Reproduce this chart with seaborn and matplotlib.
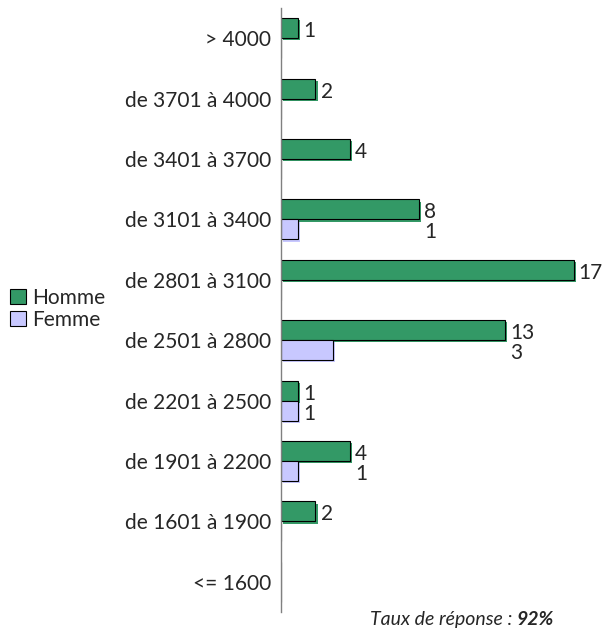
import pandas as pd
import matplotlib.pyplot as plt
import matplotlib.patheffects as pe
from matplotlib.patches import Patch
import seaborn as sns

# --- data ---
tranches = ['> 4000', 'de 3701 à 4000', 'de 3401 à 3700', 'de 3101 à 3400',
            'de 2801 à 3100', 'de 2501 à 2800', 'de 2201 à 2500',
            'de 1901 à 2200', 'de 1601 à 1900', '<= 1600']
homme = [1, 2, 4, 8, 17, 13, 1, 4, 2, 0]
femme = [0, 0, 0, 1, 0, 3, 1, 1, 0, 0]
series = ['Homme', 'Femme']
colors = {'Homme': '#339966', 'Femme': '#c8c8ff'}

df = pd.DataFrame({
    'tranche': tranches * 2,
    'sexe': ['Homme'] * len(tranches) + ['Femme'] * len(tranches),
    'n': homme + femme,
})

sns.set_style('white')
plt.rcParams['font.family'] = ['Lato', 'DejaVu Sans']
FS = 15

fig = plt.figure(figsize=(6.09, 6.30), dpi=100)
ax = fig.add_axes([281 / 609, 1 - 612 / 630, 327 / 609, 604 / 630])

sns.barplot(data=df, y='tranche', x='n', hue='sexe', order=tranches,
            hue_order=series, palette=colors, saturation=1, orient='h', width=0.66,
            edgecolor='black', linewidth=0.8, legend=False, ax=ax)

# shadow under each bar, same colour as the fill
for bar in ax.patches:
    fc = bar.get_facecolor()
    bar.set_path_effects([pe.SimplePatchShadow(offset=(1.6, -1.6), shadow_rgbFace=fc, alpha=1),
                          pe.Normal()])

# value labels, aligned at the longest bar of each group
half = 0.66 / 4
for i, (h, f) in enumerate(zip(homme, femme)):
    x = max(h, f) + 0.3
    if h:
        ax.text(x, i - half + 0.05, str(h), va='center', ha='left', fontsize=FS)
    if f:
        ax.text(x, i + half + 0.05, str(f), va='center', ha='left', fontsize=FS)

ax.set_xlim(0, 19)
ax.set_ylim(len(tranches) - 0.5, -0.5)
ax.set_xlabel('')
ax.set_ylabel('')
ax.set_xticks([])
ax.tick_params(axis='y', length=0, pad=7, labelsize=FS)
for s in ['top', 'right', 'bottom']:
    ax.spines[s].set_visible(False)
ax.spines['left'].set_color('#808080')
ax.spines['left'].set_linewidth(1)

handles = [Patch(facecolor=colors[s], edgecolor='black', linewidth=0.8) for s in series]
fig.legend(handles, series, loc='center left', bbox_to_anchor=(0, 1 - 309 / 630),
           frameon=False, fontsize=FS, handlelength=0.75, handleheight=0.75,
           handletextpad=0.3, labelspacing=0.1, borderpad=0)

# footer: italic, value in bold italic
t = fig.text(370 / 609, 1 - 628 / 630, 'Taux de réponse : ', fontsize=14,
             style='italic', va='bottom', ha='left')
ax.annotate('92%', xy=(1, 0), xycoords=t, fontsize=14, style='italic', weight='bold',
            va='bottom', ha='left')

fig.savefig('out.png', dpi=100)
